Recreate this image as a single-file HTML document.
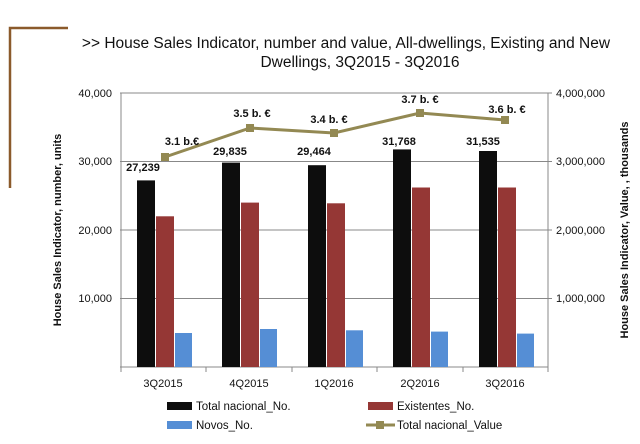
<!DOCTYPE html>
<html><head><meta charset="utf-8"><style>
body{margin:0;background:#fff;}
svg{display:block;font-family:"Liberation Sans",sans-serif;}
</style></head><body>
<svg width="640" height="444" viewBox="0 0 640 444">
<path d="M68 28H10V188" fill="none" stroke="#8B5A2B" stroke-width="2.5"/>
<text x="346" y="48" font-size="15.5" text-anchor="middle" fill="#111">&gt;&gt;  House Sales Indicator, number and value, All-dwellings, Existing and New</text>
<text x="360" y="67" font-size="15.5" text-anchor="middle" fill="#111">Dwellings, 3Q2015 - 3Q2016</text>
<g stroke="#888" stroke-width="1">
<line x1="120" y1="93" x2="552" y2="93"/>
<line x1="120" y1="161.5" x2="552" y2="161.5"/>
<line x1="120" y1="230" x2="552" y2="230"/>
<line x1="120" y1="298.5" x2="552" y2="298.5"/>
<line x1="120" y1="367" x2="548" y2="367"/>
<line x1="121" y1="93" x2="121" y2="367"/>
<line x1="548" y1="93" x2="548" y2="367"/>
<line x1="121" y1="367" x2="121" y2="372"/><line x1="206" y1="367" x2="206" y2="372"/><line x1="292" y1="367" x2="292" y2="372"/><line x1="377" y1="367" x2="377" y2="372"/><line x1="463" y1="367" x2="463" y2="372"/><line x1="548" y1="367" x2="548" y2="372"/>
</g>
<g font-size="11" fill="#111" text-anchor="end">
<text x="112" y="97">40,000</text><text x="112" y="165">30,000</text><text x="112" y="234">20,000</text><text x="112" y="302">10,000</text>
</g>
<g font-size="11" fill="#111" text-anchor="start">
<text x="556" y="97">4,000,000</text><text x="556" y="165">3,000,000</text><text x="556" y="234">2,000,000</text><text x="556" y="302">1,000,000</text>
</g>
<g>
<rect x="137" y="180.4" width="18" height="186.6" fill="#0d0d0d"/><rect x="156" y="216.3" width="18" height="150.7" fill="#953735"/><rect x="175" y="333" width="17" height="34" fill="#558ed5"/>
<rect x="222" y="162.6" width="18" height="204.4" fill="#0d0d0d"/><rect x="241" y="202.6" width="18" height="164.4" fill="#953735"/><rect x="260" y="329" width="17" height="38" fill="#558ed5"/>
<rect x="308" y="165.2" width="18" height="201.8" fill="#0d0d0d"/><rect x="327" y="203.3" width="18" height="163.7" fill="#953735"/><rect x="346" y="330.3" width="17" height="36.7" fill="#558ed5"/>
<rect x="393" y="149.4" width="18" height="217.6" fill="#0d0d0d"/><rect x="412" y="187.5" width="18" height="179.5" fill="#953735"/><rect x="431" y="331.6" width="17" height="35.4" fill="#558ed5"/>
<rect x="479" y="151" width="18" height="216" fill="#0d0d0d"/><rect x="498" y="187.5" width="18" height="179.5" fill="#953735"/><rect x="517" y="333.6" width="17" height="33.4" fill="#558ed5"/>
</g>
<polyline points="165,157 250,128 334,133 420,113 505,120" fill="none" stroke="#938953" stroke-width="3"/>
<g fill="#938953"><rect x="161" y="153" width="8" height="8"/><rect x="246" y="124" width="8" height="8"/><rect x="330" y="129" width="8" height="8"/><rect x="416" y="109" width="8" height="8"/><rect x="501" y="116" width="8" height="8"/></g>
<g font-size="11" font-weight="bold" fill="#111" text-anchor="middle">
<text x="143" y="171">27,239</text><text x="230" y="155">29,835</text><text x="314" y="155">29,464</text><text x="399" y="145">31,768</text><text x="483" y="145">31,535</text>
<text x="182" y="145">3.1 b.€</text><text x="252" y="117">3.5 b. €</text><text x="329" y="123">3.4 b. €</text><text x="420" y="103">3.7 b. €</text><text x="507" y="113">3.6 b. €</text>
</g>
<g font-size="11" fill="#111" text-anchor="middle">
<text x="163" y="387">3Q2015</text><text x="249" y="387">4Q2015</text><text x="334" y="387">1Q2016</text><text x="420" y="387">2Q2016</text><text x="505" y="387">3Q2016</text>
</g>
<text transform="translate(61,230) rotate(-90)" font-size="11" font-weight="bold" text-anchor="middle" fill="#111">House Sales Indicator, number, units</text>
<text transform="translate(628,230) rotate(-90)" font-size="11" font-weight="bold" text-anchor="middle" fill="#111">House Sales Indicator, Value, , thousands</text>
<g font-size="11.5" fill="#111">
<rect x="167" y="402" width="25" height="8" fill="#0d0d0d"/><text x="196" y="410">Total nacional_No.</text>
<rect x="368" y="402" width="25" height="8" fill="#953735"/><text x="397" y="410">Existentes_No.</text>
<rect x="167" y="421" width="25" height="8" fill="#558ed5"/><text x="196" y="429">Novos_No.</text>
<line x1="366" y1="425" x2="395" y2="425" stroke="#938953" stroke-width="3"/><rect x="376" y="421" width="8" height="8" fill="#938953"/><text x="397" y="429">Total nacional_Value</text>
</g>
</svg>
</body></html>
